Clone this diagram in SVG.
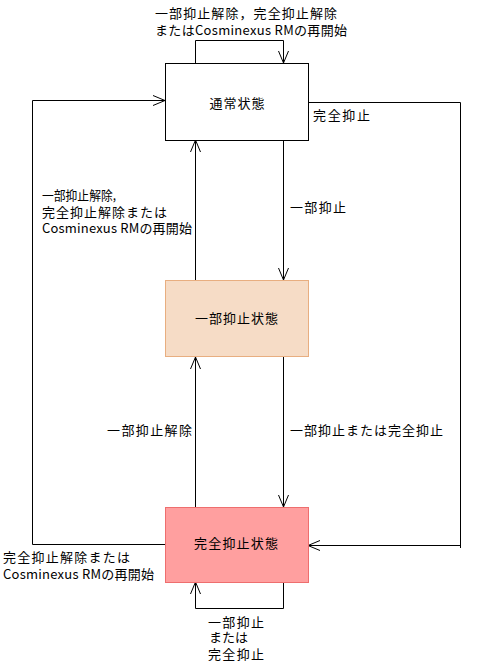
<svg xmlns="http://www.w3.org/2000/svg" width="478" height="672" viewBox="0 0 478 672">
<style>
text{font-family:"Noto Sans CJK JP","Noto Sans",sans-serif;font-size:13px;fill:#000}
.c{text-anchor:middle}
.ln{fill:none;stroke:#000;stroke-width:1}
</style>
<defs>
<marker id="a" markerUnits="userSpaceOnUse" markerWidth="16" markerHeight="16" viewBox="-13 -8 16 16" refX="0" refY="0" orient="auto">
<path d="M-12,-5 L0,0 L-12,5" fill="none" stroke="#000" stroke-width="1"/>
</marker>
</defs>
<rect width="478" height="672" fill="#fff"/>
<g id="connectors">
<path class="ln" d="M195.5,63 V40.5 H283.5 V63" marker-end="url(#a)"/>
<path class="ln" d="M283.5,140 V280" marker-end="url(#a)"/>
<path class="ln" d="M195.5,280 V140" marker-end="url(#a)"/>
<path class="ln" d="M283.5,357 V507" marker-end="url(#a)"/>
<path class="ln" d="M195.5,507 V357" marker-end="url(#a)"/>
<path class="ln" d="M283.5,582 V608.5 H195.5 V582" marker-end="url(#a)"/>
<path class="ln" d="M165,544.5 H32.5 V100.5 H165" marker-end="url(#a)"/>
<path class="ln" d="M308,102.5 H460.5 V548"/>
<path class="ln" d="M460.5,545.5 H308" marker-end="url(#a)"/>
</g>
<g id="normal">
<rect x="165.5" y="63.5" width="143" height="77" fill="#fff" stroke="#000"/>
<text class="c" x="237" y="108" textLength="55">通常状態</text>
</g>
<g id="partial">
<rect x="165.5" y="280.5" width="143" height="76" fill="#F6DCC6" stroke="#E8AE80"/>
<text class="c" x="236.5" y="323" textLength="83">一部抑止状態</text>
</g>
<g id="full">
<rect x="165.5" y="507.5" width="143" height="75" fill="#FF9F9F" stroke="#EE6E6E"/>
<text class="c" x="236" y="548" textLength="84">完全抑止状態</text>
</g>
<g id="labels">
<text x="155" y="18" textLength="182">一部抑止解除，完全抑止解除</text>
<text x="155" y="35" textLength="192">またはCosminexus RMの再開始</text>
<text x="313" y="120" textLength="57">完全抑止</text>
<text x="42" y="200" textLength="74" lengthAdjust="spacingAndGlyphs">一部抑止解除,</text>
<text x="42" y="217" textLength="125">完全抑止解除または</text>
<text x="42" y="233" textLength="150">Cosminexus RMの再開始</text>
<text x="290" y="212" textLength="56">一部抑止</text>
<text x="107" y="435" textLength="85">一部抑止解除</text>
<text x="290" y="435" textLength="153">一部抑止または完全抑止</text>
<text x="3" y="562" textLength="127">完全抑止解除または</text>
<text x="3" y="579" textLength="151">Cosminexus RMの再開始</text>
<text x="208" y="627" textLength="56">一部抑止</text>
<text x="209" y="642" textLength="39">または</text>
<text x="208" y="659" textLength="56">完全抑止</text>
</g>
</svg>
